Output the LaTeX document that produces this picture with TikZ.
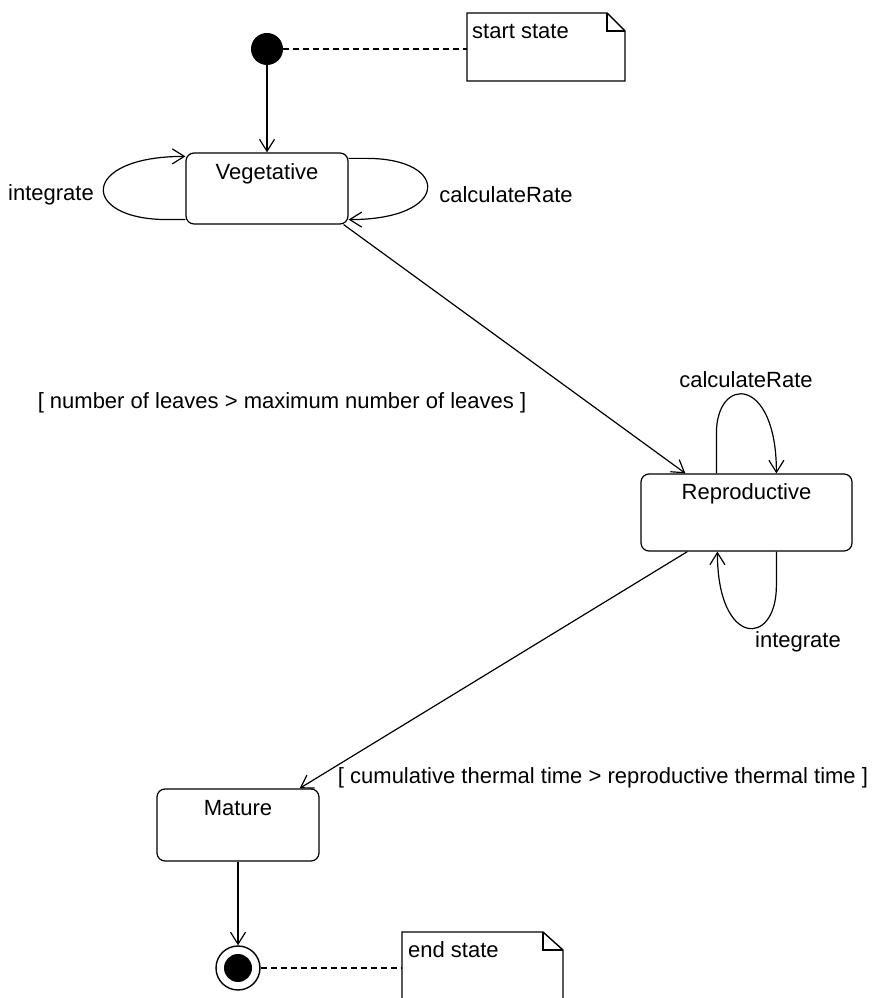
\documentclass[tikz,border=0pt]{standalone}
\usepackage{fontspec}
\setmainfont{Liberation Sans}
\usetikzlibrary{arrows.meta,calc}
\begin{document}
\begin{tikzpicture}[x=1pt,y=1pt,
  every node/.style={font=\fontsize{22}{26}\selectfont},
  state/.style={draw, rounded corners=8pt, line width=1.2pt, inner sep=0pt},
  trans/.style={line width=1.2pt, -{Straight Barb[length=12pt,width=15pt]}},
  dashline/.style={line width=1.4pt, dash pattern=on 6pt off 4pt},
  notebox/.style={line width=1.4pt},
  lbl/.style={inner sep=0pt},
  emptybox/.style={inner sep=0pt, outer sep=0pt}]
\useasboundingbox (0,0) rectangle (884,998);

% states
\node[circle, fill, inner sep=0pt, minimum size=32pt] (start) at (267,949) {};
\node[state, minimum width=162pt, minimum height=71pt] (veg) at (267,809.5) {};
\node[lbl] (vegt) at (267,824) {Vegetative};
\node[state, minimum width=211pt, minimum height=77pt] (rep) at (746.5,485.5) {};
\node[lbl] (rept) at (746.5,504) {Reproductive};
\node[state, minimum width=162pt, minimum height=72pt] (mat) at (238,173) {};
\node[lbl] (matt) at (238,190) {Mature};
\node[circle, draw, line width=1.4pt, inner sep=0pt, minimum size=44pt] (end) at (238,30) {};
\node[circle, fill, inner sep=0pt, minimum size=28pt] (endin) at (end) {};

% notes
\node[emptybox, minimum width=158pt, minimum height=68pt, anchor=north west] (snote) at (467,985) {};
\draw[notebox] (snote.south west) -- (snote.north west) -- ($(snote.north east)+(-18,0)$)
  -- ($(snote.north east)+(0,-18)$) -- (snote.south east) -- cycle;
\draw[notebox] ($(snote.north east)+(-18,0)$) -- ($(snote.north east)+(-18,-18)$) -- ($(snote.north east)+(0,-18)$);
\node[lbl, anchor=west] (stext) at ($(snote.north west)+(5,-18.5)$) {start state};

\node[emptybox, minimum width=161pt, minimum height=72pt, anchor=north west] (enote) at (402,66) {};
\draw[notebox] (enote.south west) -- (enote.north west) -- ($(enote.north east)+(-20,0)$)
  -- ($(enote.north east)+(0,-18)$) -- (enote.south east);
\draw[notebox] ($(enote.north east)+(-20,0)$) -- ($(enote.north east)+(-20,-18)$) -- ($(enote.north east)+(0,-18)$);
\node[lbl, anchor=west] (etext) at ($(enote.north west)+(6,-18)$) {end state};

% dashed anchors
\draw[dashline] (start.east) -- (snote.west |- start.east);
\draw[dashline] (end.east) -- (enote.west |- end.east);

% transitions
\draw[trans] (start) -- (veg);
\draw[trans] ($(veg.south east)+(-5,0)$) -- ($(rep.north west)+(45,0)$);
\draw[trans] ($(rep.south west)+(47,0)$) -- ($(mat.north east)+(-20,0)$);
\draw[trans] (mat) -- (end);

% self loops on Vegetative
\draw[trans] ($(veg.south west)+(0,5)$) -- ++(-18,0) .. controls +(-88,0) and +(-106,0) .. ($(veg.north west)+(0,-4)$);
\draw[trans] ($(veg.north east)+(0,-6)$) -- ++(18,0) .. controls +(84,0) and +(102,0) .. ($(veg.south east)+(0,5)$);

% self loops on Reproductive
\draw[trans] ($(rep.north west)+(76,0)$) -- ++(0,40) .. controls +(0,58) and +(0,98) .. ($(rep.north west)+(136,0)$);
\draw[trans] ($(rep.south west)+(136,0)$) -- ++(0,-34) .. controls +(0,-62) and +(0,-96) .. ($(rep.south west)+(77,0)$);

% labels
\node (l1) at (282,595) {[ number of leaves > maximum number of leaves ]};
\node (l2) at (603,220) {[ cumulative thermal time > reproductive thermal time ]};
\node (vi) at (51,803) {integrate};
\node (vc) at (506,803) {calculateRate};
\node (rc) at (746,618) {calculateRate};
\node (ri) at (798,356) {integrate};
\end{tikzpicture}
\end{document}
